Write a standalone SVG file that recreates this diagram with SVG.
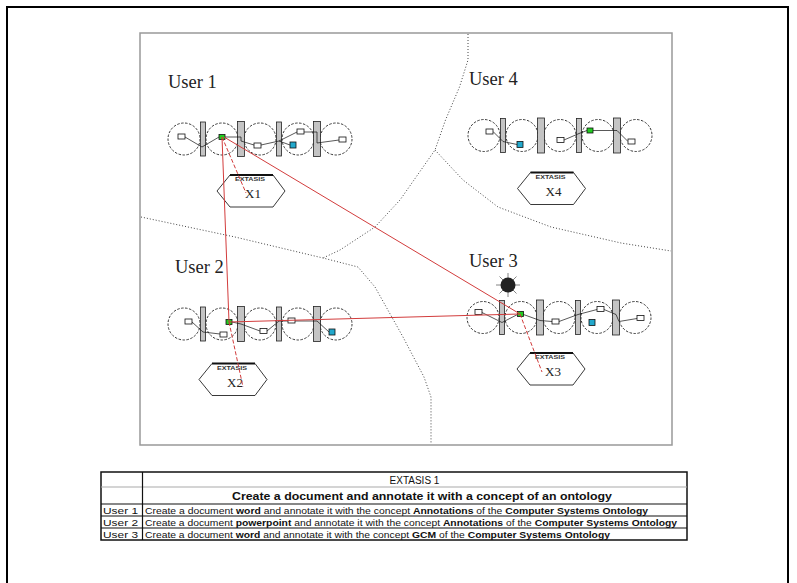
<svg xmlns="http://www.w3.org/2000/svg" xmlns:xlink="http://www.w3.org/1999/xlink" width="797" height="583" viewBox="0 0 797 583">
<style>
.lbl{font-family:"Liberation Serif","Times New Roman",serif;font-size:18.5px;fill:#222}
.circ{fill:none;stroke:#222;stroke-width:0.9;stroke-dasharray:2.5 1.5}
.bar{fill:#c4c4c4;stroke:#222;stroke-width:0.8}
.sq{fill:#fff;stroke:#111;stroke-width:0.8}
.grn{fill:#22cc22;stroke:#111;stroke-width:0.8}
.cyn{fill:#22a8cc;stroke:#111;stroke-width:0.8}
.wire{fill:none;stroke:#111;stroke-width:0.7}
.hex{fill:#fff;stroke:#222;stroke-width:0.9}
.hextop{stroke:#111;stroke-width:2}
.hexsm{font-family:"Liberation Sans",Arial,sans-serif;font-size:5.5px;font-weight:bold;fill:#333}
.hexlb{font-family:"Liberation Serif","Times New Roman",serif;font-size:13px;fill:#222}
.dot{fill:none;stroke:#444;stroke-width:1;stroke-dasharray:1 2}
.red{fill:none;stroke:#d23c3c;stroke-width:1}
.redd{fill:none;stroke:#d23c3c;stroke-width:1;stroke-dasharray:4 2}
.tb{font-family:"Liberation Sans",Arial,sans-serif;fill:#111}
.tl{stroke:#111;stroke-width:1.2}
</style>
<defs>
<g id="rowbase">
<circle class="circ" cx="16" cy="0" r="16"/>
<circle class="circ" cx="54" cy="0" r="16"/>
<circle class="circ" cx="92" cy="0" r="16"/>
<circle class="circ" cx="130" cy="0" r="16"/>
<circle class="circ" cx="168" cy="0" r="16"/>
<rect class="bar" x="32.5" y="-17" width="5" height="34"/>
<rect class="bar" x="69.5" y="-17.5" width="7" height="35"/>
<rect class="bar" x="108.5" y="-17" width="5" height="34"/>
<rect class="bar" x="145.5" y="-17.5" width="7" height="35"/>
</g>
<g id="hexshape">
<polygon class="hex" points="-34,0 -21,-16 22,-16 34,0 22,16 -21,16"/>
<line class="hextop" x1="-21" y1="-16" x2="22" y2="-16"/>
</g>
</defs>
<rect x="0" y="0" width="797" height="583" fill="#fff"/>
<rect x="7" y="7" width="781" height="600" fill="none" stroke="#000" stroke-width="2"/>
<rect x="140" y="33" width="532" height="412" fill="none" stroke="#999" stroke-width="1.5"/>
<g id="regions">
<polyline class="dot" points="468,34 468,60 459.5,87 445.5,120 435,150 400,200 375,227 340,250 323,258"/>
<polyline class="dot" points="141,217 235,237 323,258 358,267 375,287 403,337 424,377 431,397 431,444"/>
<polyline class="dot" points="435,150 463,180 498,207 551,227 621,243 671,251"/>
</g>
<g id="labels">
<text class="lbl" x="168" y="88">User 1</text>
<text class="lbl" x="469" y="85">User 4</text>
<text class="lbl" x="175" y="273">User 2</text>
<text class="lbl" x="469" y="267">User 3</text>
</g>
<g id="user1" transform="translate(168,139)">
<use href="#rowbase"/>
<polyline class="wire" points="17,-2 34,8 51,-2"/>
<polyline class="wire" points="57,-2 73,-2 73,2 86,6"/>
<polyline class="wire" points="93,6 111,2 129,-7"/>
<polyline class="wire" points="111,2 122,6"/>
<polyline class="wire" points="136,-7 149,-7 149,4 171,1"/>
<rect class="sq" x="10" y="-5" width="7" height="5"/>
<rect class="grn" x="51" y="-4.5" width="6" height="5"/>
<rect class="sq" x="86" y="4" width="7" height="5"/>
<rect class="sq" x="129" y="-10" width="7" height="5"/>
<rect class="cyn" x="122" y="3" width="6" height="6"/>
<rect class="sq" x="171" y="-2" width="7" height="5"/>
</g>
<g id="user4" transform="translate(468,135.5)">
<use href="#rowbase"/>
<polyline class="wire" points="25,-4 35,6 49,9"/>
<polyline class="wire" points="96,4.5 111,-2 119,-5"/>
<polyline class="wire" points="125,-5 149,-5 160,6"/>
<rect class="sq" x="18" y="-6.5" width="7" height="5"/>
<rect class="cyn" x="49" y="6" width="6" height="6"/>
<rect class="sq" x="89" y="2" width="7" height="5"/>
<rect class="grn" x="119" y="-7.5" width="6" height="5"/>
<rect class="sq" x="160" y="3.5" width="7" height="5"/>
</g>
<g id="user2" transform="translate(168,324)">
<use href="#rowbase"/>
<polyline class="wire" points="24,-2 35,8 52,10"/>
<polyline class="wire" points="64,-2 73,0 92,7"/>
<polyline class="wire" points="99,7 111,-3 120,-3"/>
<polyline class="wire" points="127,-3 149,-3 161,8"/>
<rect class="sq" x="17" y="-5" width="7" height="5"/>
<rect class="sq" x="52" y="8" width="7" height="5"/>
<rect class="grn" x="58" y="-4.5" width="6" height="5"/>
<rect class="sq" x="92" y="4.5" width="7" height="5"/>
<rect class="sq" x="120" y="-6" width="7" height="5"/>
<rect class="cyn" x="161" y="5" width="6" height="6"/>
</g>
<g id="user3" transform="translate(467,317.5)">
<use href="#rowbase"/>
<polyline class="wire" points="15,-5 35,5 50.5,-3"/>
<polyline class="wire" points="56.5,-3 73,3 85,4"/>
<polyline class="wire" points="92,4 111,-3 130,-8"/>
<polyline class="wire" points="137,-8 149,-3 152,4 170,1"/>
<rect class="sq" x="8" y="-8" width="7" height="5"/>
<rect class="grn" x="50.5" y="-6" width="6" height="5"/>
<rect class="sq" x="85" y="1.5" width="7" height="5"/>
<rect class="sq" x="130" y="-11" width="7" height="5"/>
<rect class="cyn" x="122" y="2" width="6" height="6"/>
<rect class="sq" x="170" y="-2" width="7" height="5"/>
</g>
<g id="sun" transform="translate(508,285)">
<g stroke="#666" stroke-width="0.8">
<line x1="0" y1="-12" x2="0" y2="12"/>
<line x1="-12" y1="0" x2="12" y2="0"/>
<line x1="-8.5" y1="-8.5" x2="8.5" y2="8.5"/>
<line x1="-8.5" y1="8.5" x2="8.5" y2="-8.5"/>
</g>
<circle cx="0" cy="0" r="7.5" fill="#222"/>
</g>
<g id="x1" transform="translate(251,191)">
<use href="#hexshape"/>
<text class="hexsm" x="-16" y="-10" textLength="30" lengthAdjust="spacingAndGlyphs">EXTASIS</text>
<text class="hexlb" x="-6" y="7">X1</text>
</g>
<g id="x4" transform="translate(551.5,188.5)">
<use href="#hexshape"/>
<text class="hexsm" x="-16" y="-10" textLength="30" lengthAdjust="spacingAndGlyphs">EXTASIS</text>
<text class="hexlb" x="-6" y="7">X4</text>
</g>
<g id="x2" transform="translate(233,379.5)">
<use href="#hexshape"/>
<text class="hexsm" x="-16" y="-10" textLength="30" lengthAdjust="spacingAndGlyphs">EXTASIS</text>
<text class="hexlb" x="-6" y="7">X2</text>
</g>
<g id="x3" transform="translate(551,369)">
<use href="#hexshape"/>
<text class="hexsm" x="-16" y="-10" textLength="30" lengthAdjust="spacingAndGlyphs">EXTASIS</text>
<text class="hexlb" x="-6" y="7">X3</text>
</g>
<g id="connectors">
<line class="red" x1="222" y1="137" x2="229" y2="322"/>
<line class="red" x1="224" y1="137" x2="520" y2="314"/>
<line class="red" x1="229" y1="322" x2="520" y2="314"/>
<line class="redd" x1="222" y1="137" x2="246" y2="193"/>
<line class="redd" x1="229" y1="322" x2="243" y2="387"/>
<line class="redd" x1="520" y1="314" x2="542" y2="372"/>
</g>
<g id="table">
<rect x="101" y="472" width="586" height="68" fill="#fff" stroke="#111" stroke-width="1.5"/>
<line x1="101" y1="487" x2="687" y2="487" stroke="#aaa" stroke-width="1.2"/>
<line class="tl" x1="101" y1="504" x2="687" y2="504"/>
<line class="tl" x1="101" y1="516" x2="687" y2="516"/>
<line class="tl" x1="101" y1="528" x2="687" y2="528"/>
<line class="tl" x1="142.5" y1="472" x2="142.5" y2="540"/>
<text class="tb" x="414.5" y="484" font-size="10" text-anchor="middle">EXTASIS 1</text>
<text class="tb" x="232" y="500" font-size="10.5" font-weight="bold" textLength="380" lengthAdjust="spacingAndGlyphs">Create a document and annotate it with a concept of an ontology</text>
<text class="tb" x="103" y="513.5" font-size="9.5" fill="#666" textLength="35" lengthAdjust="spacingAndGlyphs">User 1</text>
<text class="tb" x="103" y="525.5" font-size="9.5" fill="#666" textLength="35" lengthAdjust="spacingAndGlyphs">User 2</text>
<text class="tb" x="103" y="537.5" font-size="9.5" fill="#666" textLength="35" lengthAdjust="spacingAndGlyphs">User 3</text>
<text class="tb" x="145" y="513.5" font-size="8.5" textLength="503" lengthAdjust="spacingAndGlyphs">Create a document <tspan font-weight="bold">word</tspan> and annotate it with the concept <tspan font-weight="bold">Annotations</tspan> of the <tspan font-weight="bold">Computer Systems Ontology</tspan></text>
<text class="tb" x="145" y="525.5" font-size="8.5" textLength="532" lengthAdjust="spacingAndGlyphs">Create a document <tspan font-weight="bold">powerpoint</tspan> and annotate it with the concept <tspan font-weight="bold">Annotations</tspan> of the <tspan font-weight="bold">Computer Systems Ontology</tspan></text>
<text class="tb" x="145" y="537.5" font-size="8.5" textLength="465" lengthAdjust="spacingAndGlyphs">Create a document <tspan font-weight="bold">word</tspan> and annotate it with the concept <tspan font-weight="bold">GCM</tspan> of the <tspan font-weight="bold">Computer Systems Ontology</tspan></text>
</g>
</svg>
